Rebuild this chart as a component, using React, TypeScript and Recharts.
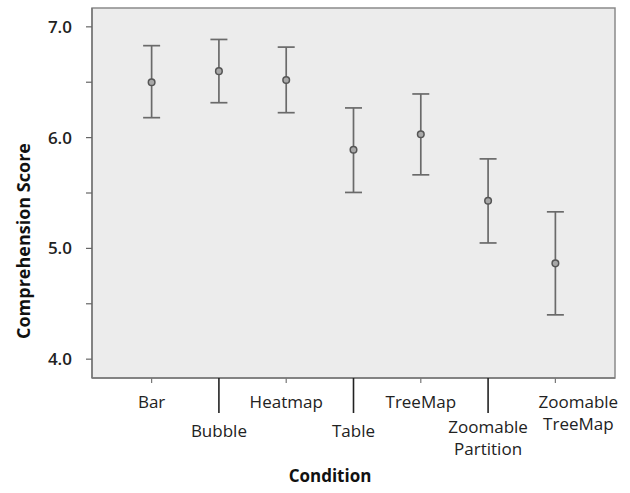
import {
  ErrorBar,
  ReferenceArea,
  Scatter,
  ScatterChart,
  XAxis,
  YAxis,
  Label,
} from "recharts";

const conditions = [
  ["Bar"],
  ["Bubble"],
  ["Heatmap"],
  ["Table"],
  ["TreeMap"],
  ["Zoomable", "Partition"],
  ["Zoomable", "TreeMap"],
];
const means = [6.5, 6.6, 6.52, 5.89, 6.03, 5.43, 4.865];
const lowers = [6.18, 6.315, 6.225, 5.505, 5.664, 5.049, 4.4];
const uppers = [6.83, 6.886, 6.817, 6.268, 6.394, 5.808, 5.33];
const yTicks = [4, 4.5, 5, 5.5, 6, 6.5, 7];

const data = means.map((m, i) => ({
  x: i,
  mean: m,
  err: [m - lowers[i], uppers[i] - m],
}));

const FONT = "'Open Sans', 'DejaVu Sans', sans-serif";

function ConditionTick(props: any) {
  const { x, y, payload } = props;
  const i = payload.value as number;
  const odd = i % 2 === 1;
  const lines = conditions[i] || [];
  const tickLen = odd ? 35 : 5;
  let base = odd ? 59 : 30;
  if (odd && lines.length > 1) base -= 4;
  // the last label sits against the right edge, like the original
  const tx = i === conditions.length - 1 ? x + 23 : x;
  return (
    <g>
      <line
        x1={x}
        x2={x}
        y1={y}
        y2={y + tickLen}
        stroke={odd ? "#222" : "#777"}
        strokeWidth={odd ? 1.6 : 1.2}
      />
      <text
        x={tx}
        y={y + base}
        textAnchor="middle"
        fontSize={17}
        fontFamily={FONT}
        fill="#222"
      >
        {lines.map((l, k) => (
          <tspan key={k} x={tx} dy={k === 0 ? 0 : 21.5}>
            {l}
          </tspan>
        ))}
      </text>
    </g>
  );
}

export default function App() {
  return (
    <div style={{ position: "absolute", left: 0, top: 0, background: "#fff" }}>
      <style>{`body{margin:0}`}</style>
      <ScatterChart
        width={630}
        height={493}
        margin={{ top: 8, right: 15, bottom: 0, left: 0 }}
      >
        <ReferenceArea
          x1={-0.886}
          x2={6.886}
          y1={3.83}
          y2={7.17}
          fill="#ececec"
          fillOpacity={1}
          stroke="#8a8a8a"
          strokeWidth={1.5}
          ifOverflow="visible"
        />
        <XAxis
          type="number"
          dataKey="x"
          domain={[-0.886, 6.886]}
          ticks={[0, 1, 2, 3, 4, 5, 6]}
          allowDataOverflow
          height={115}
          tickLine={false}
          tickSize={0}
          tickMargin={0}
          axisLine={{ stroke: "#777", strokeWidth: 1.5 }}
          tick={<ConditionTick />}
          interval={0}
        >
          <Label
            content={() => (
              <text
                x={330}
                y={482}
                textAnchor="middle"
                fontSize={17}
                fontWeight="bold"
                fontFamily={FONT}
                fill="#111"
              >
                Condition
              </text>
            )}
          />
        </XAxis>
        <YAxis
          type="number"
          dataKey="mean"
          domain={[3.83, 7.17]}
          ticks={yTicks}
          allowDataOverflow
          width={92}
          tickSize={6}
          tickMargin={14}
          interval={0}
          tickFormatter={(v: number) => (Number.isInteger(v) ? v.toFixed(1) : "")}
          tick={{ fontSize: 17, fontFamily: FONT, fill: "#222", fontWeight: 600 }}
          tickLine={{ stroke: "#666", strokeWidth: 1.2 }}
          axisLine={{ stroke: "#777", strokeWidth: 1.5 }}
        >
          <Label
            content={() => (
              <text
                x={30}
                y={241}
                transform="rotate(-90 30 241)"
                textAnchor="middle"
                fontSize={18}
                fontWeight="bold"
                fontFamily={FONT}
                fill="#111"
              >
                Comprehension Score
              </text>
            )}
          />
        </YAxis>
        <Scatter
          data={data}
          dataKey="mean"
          isAnimationActive={false}
          shape={(p: any) => (
            <circle
              cx={p.cx}
              cy={p.cy}
              r={3.3}
              fill="#a8a8a8"
              stroke="#555"
              strokeWidth={1.5}
            />
          )}
        >
          <ErrorBar
            dataKey="err"
            direction="y"
            width={8.5}
            stroke="#6a6a6a"
            strokeWidth={1.7}
            isAnimationActive={false}
          />
        </Scatter>
      </ScatterChart>
    </div>
  );
}
